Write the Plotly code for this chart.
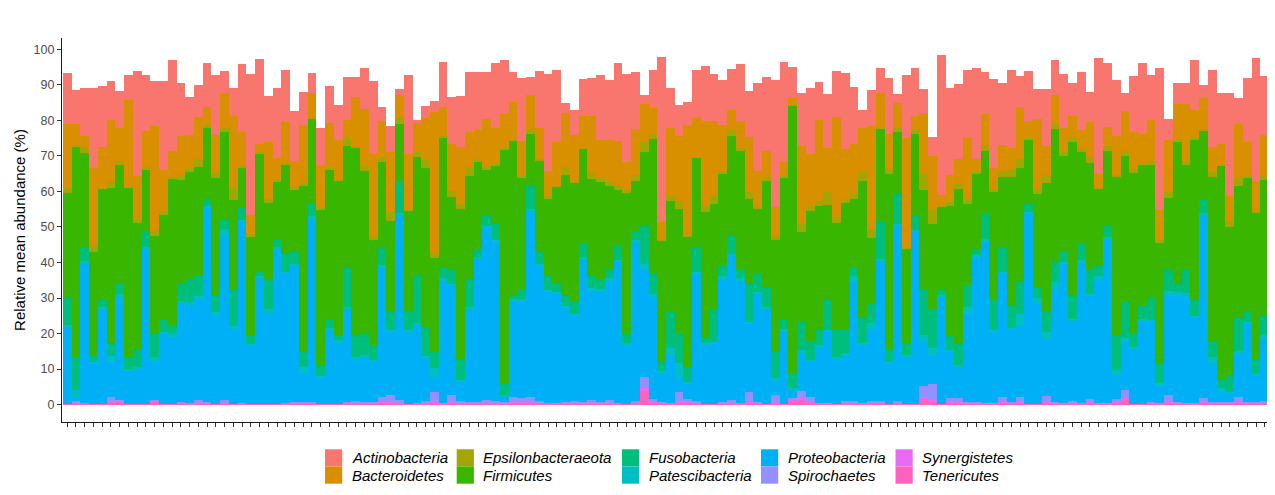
import plotly.graph_objects as go

samples = list(range(1, 139))

actinobacteria = [14.4,9.5,13.5,22.5,17.2,11,10.3,7.1,29.7,15.7,
    12.5,25,25.5,15,10.7,9,12.4,16.8,6,7.8,
    19.1,39.7,23.8,13,19.5,14.7,14,9.2,5.5,10.5,
    10.4,9.7,12.2,5.6,11.4,20.7,4.1,7.5,1.6,22.2,
    0.8,3.3,3.1,12.7,13.3,14.5,16.9,16.1,13.2,18.3,
    14.7,8.3,17.7,5.1,15.9,27.3,20.3,3,6.9,10.5,
    10.7,18.2,16.9,22.1,24.9,15.9,2.5,10.8,46.4,11.2,
    8.7,6.5,13.2,15.7,13.5,12.7,11.7,16.3,12.9,24.5,
    20.6,35.9,27.7,8.6,14.8,18.6,10.6,15.2,12.8,21.4,
    15.9,4.9,10,7,15.9,2.4,17.8,13.4,6.7,5.3,
    39.2,24.4,21.1,18.9,25.6,11.9,25.1,17.2,22.1,8.6,
    14,8.4,15.9,9.7,15.2,9.3,16.4,8.5,32.6,18.1,
    15.6,5,15.9,20.2,12.7,39.9,5.9,6,5.8,14.1,
    3.8,21.7,14.5,29,7.2,18.2,34.6,16.5]

bacteroidetes = [18,6,3,21.5,11.5,17,9.5,24.4,12.3,10,
    29.5,11.5,7.3,11,9.5,12,5.3,11,9.6,20.2,
    9.4,5.3,2.5,16,6.3,11.5,7.7,16.3,6.8,12,
    12.8,11.1,4.9,14.1,16,23.4,9.9,16.8,6.6,15.6,
    8,11.9,39.7,8.1,13.3,15.9,9.8,8.3,13.1,10.3,
    10,10.5,10,9.4,8.9,7.2,12.2,15.2,13.1,9,
    16,10.5,11.9,12.7,8,13.1,10.8,7.3,5,19.2,
    18.3,31.2,11.2,23.9,20.6,13.4,5.6,7.5,15.6,10.3,
    7.5,8.3,4,2,22,14.5,22.8,12.4,28.2,14,
    14.2,12.6,29.3,9.8,9.8,7.2,30.8,3.9,17.2,15.3,
    3.1,7.7,7,17.3,3.7,8.6,6.1,7.3,5.9,14.8,
    4.9,19.7,8.4,8.1,7,6.1,5.4,10,3.7,5.3,
    11.2,11.2,10.3,8.2,11.6,8.6,14.7,10.1,16.4,7.9,
    8.7,7,5.8,7.2,15,9.3,8.5,11.5]

epsilonbacteraeota = [1.5,0.3,1.8,2,0.3,2,1,0.3,1,1,
    1.5,1,0.5,1.2,1,2,0.5,1.2,1.6,3.5,
    0.8,0.7,0.3,1.3,0.3,0.3,0.7,1,0.5,0.8,
    0.3,0.3,2.3,0.3,1.4,0.7,1.6,2.4,1.5,0.3,
    1.7,2.3,1.4,0.4,1.6,1.4,2.5,0.7,1.3,0.3,
    0.3,0.3,0.3,1.4,0.3,0.8,0.3,2.1,0.3,0.3,
    1.8,1.4,1.1,1,0.7,1.5,2.8,1.4,0.3,1.4,
    2.3,0.3,0.3,1.6,2.6,0.3,1.6,0.9,1.9,0.3,
    1,0.9,0.9,0.3,2.3,1.4,1.3,3.5,1.7,1.2,
    1.4,2.4,2.2,0.3,1.4,1.2,0.3,1.3,4.5,4.1,
    0.2,1,1.4,1.4,0.3,1.9,0.6,1.7,2.1,2.5,
    0.4,1.4,2.2,1.6,0.9,1.4,0.9,1.7,0.3,1.4,
    0.3,1.4,1.2,0.3,1,0.5,1.6,0.4,0.7,0.5,
    0.4,1.2,0.3,1.3,2.6,0.7,0.3,1.3]

firmicutes = [29.5,59.2,26.7,29,31.2,44,33.5,47.5,35.5,17,
    27.5,29.8,41.4,29.3,30.5,30.7,20,33,24.3,25.2,
    11.2,27.8,33.4,21.7,16.7,25.4,17,46.5,24,43.7,
    42.4,43.8,34.5,53,45.9,29.7,23.7,25.7,16.1,28.5,
    33.2,45,26.4,36.9,20.6,42.6,29.1,24.5,13,16.5,
    65.7,43.6,31.4,14.7,25.9,21.5,27.2,34.1,33.7,26.5,
    27,27.3,23.5,15.7,39.6,14,20.6,37.7,34,31.3,
    35.1,36.8,25,35.3,29.5,25.9,28.1,33,23.8,18.4,
    29.9,31.5,40,75.3,25.3,36.9,34.9,26.9,29.7,35.7,
    19.2,38.3,18.6,26.3,49.6,17.3,26.7,22.9,27.8,23.7,
    23.4,36.4,43.7,22.9,21.2,17.6,30,20,36.5,32.1,
    18.1,26.4,35.9,37.4,27.2,43.3,25.9,29.9,22,21.1,
    44.6,40.9,45.3,39.6,37.4,34.1,20.2,39.9,29.2,45.1,
    19.5,46.5,60.1,41.8,36.9,37.4,41.4,38]

fusobacteria = [7.7,9.5,3.5,2,2,3.2,3,3.5,5,4.7,
    6.7,3.2,2.5,4.7,6.2,5.8,2,4.8,2.8,10.3,
    3.3,2.5,1,8,1.9,5,3.6,4.5,3.5,3,
    2.3,1.2,10.9,5.8,6.1,4.2,5.3,5,9.1,5.1,
    13.4,7.9,4.7,2.9,3.8,5.6,7.7,2.4,2.6,4.5,
    3.5,1.2,3,6.5,3.2,4.2,2.4,2.9,3.3,4,
    3.8,2.8,2.5,4,2.8,2.8,10.7,5.8,2.6,10.3,
    8.4,4,7.2,1.7,9.3,3.1,5.1,2.8,10.8,5.2,
    5.6,7.5,2.4,4.2,8,5.2,4.4,8.3,7.9,6.6,
    2.6,7.5,5.4,10.3,3.2,8.4,3.3,4,13,11.2,
    1.6,4.1,5.9,6.1,1.9,7.2,8.8,6.9,6,8.9,
    2.3,2.8,5.9,5.6,2.8,6.3,4.5,6.9,2.8,3.1,
    9.9,10.4,3.5,3.8,6.2,5.4,6,2.5,6.9,4.5,
    3.7,4.2,2.5,4.7,9.3,3.1,3.9,5.6]

patescibacteria = [0.5,2.2,0.5,0.5,0.5,1.8,0.5,0.5,0.5,0.5,
    1.3,0.5,0.5,0.5,0.5,0.5,0.5,1,2,0.5,
    0.5,0.5,0.5,1.3,0.5,0.5,0.5,2,0.5,0.5,
    0.5,0.5,0.5,0.5,0.5,0.5,0.5,0.5,0.5,0.5,
    0.5,0.5,2.3,0.5,0.5,0.5,0.5,0.5,0.5,0.5,
    0.5,0.5,0.5,0.5,0.5,0.5,0.5,0.5,0.5,0.5,
    0.5,0.5,0.5,0.5,0.5,0.5,1.4,1,0.5,1.9,
    4.2,0.5,0.5,0.5,0.5,0.7,0.5,0.5,0.7,0.5,
    0.5,0.5,0.5,0.5,0.5,0.5,0.5,0.5,0.5,0.5,
    1.6,0.5,1.6,0.5,0.5,0.5,0.5,0.5,1.9,2.1,
    0.5,0.5,0.5,1.9,0.5,0.5,0.5,0.5,0.5,3.2,
    0.5,1.7,1.9,1.9,0.5,0.5,0.5,0.5,0.5,0.5,
    1.7,1.1,0.5,0.5,0.5,1.1,1.5,1.2,0.5,0.5,
    0.5,1.7,0.5,0.5,0.8,0.5,0.5,1]

proteobacteria = [21.5,0.8,39.5,11.2,26.8,10,29.3,9.3,9.8,43.5,
    10.8,19.8,19.1,28,27.8,28.7,54.7,24.7,46.3,21.2,
    51,16.2,35.6,25.4,43.5,36.3,38.4,7.7,51.9,7.3,
    20.8,17.4,26.2,12,12.6,11.2,36.5,17.9,52.1,20.2,
    22,12.2,4.3,34.6,30.8,5.3,26.2,40.2,48.7,44.9,
    1.6,26.9,27.3,52.4,38.2,31.2,30.8,26.4,24.1,40.2,
    31,31.4,33.8,39.8,16.4,44.7,30.4,28.7,8.2,13.5,
    3.8,4.5,35.8,16.4,16.9,34.6,40.8,34.5,19,30.4,
    26.7,4.2,20.6,2.3,10.9,9.8,15.8,20.2,12.7,12.9,
    33.5,16.2,20.4,39.6,11.3,49.4,13.1,48.4,12.6,7.9,
    30.1,13.2,8.8,25,40.9,45.5,20.1,34.6,20.6,20.2,
    53.4,28.1,16.2,32,39.2,22.6,39.7,29.1,35.2,46.4,
    6.5,13.6,15.5,23.4,22.8,4.7,27.8,29.9,30.5,24,
    51.6,11.2,3.5,2.3,12.2,22.2,7.7,17.7]

spirochaetes = [0,0.6,0.1,0,0,0.9,0.1,0,0,0,
    0.3,0,0,0.4,0.1,0.9,0.4,0,0.8,0,
    0.1,0,0,0,0,0.1,0.4,0.4,0.2,0,
    0,0,0.4,0.6,0.4,0.4,1.4,1.9,0.9,0,
    0.1,0.6,2.5,0,1.9,0.7,0.4,0.4,0.8,0.6,
    0.2,1.4,1.0,1.4,0.6,0.1,0,0.4,0.6,0.4,
    0.8,0.2,0.8,0.1,0,0.6,3.3,0.7,0.4,0,
    2.6,0.7,0.6,0,0,0.4,0.8,0.1,2.8,0.4,
    0,1.9,0,0.3,2.0,1.4,0,0,0,0.6,
    0.6,0.1,0.6,0.6,0,0.6,0,0,3.0,4.5,
    0,1.0,1.0,0.2,0.2,0.1,0,1.4,0.2,1.4,
    0,0,1.6,0.2,0,0.7,0,0.7,0,0,
    0.7,2.3,0,0,0.2,0,1.9,0.2,0,0,
    1.0,0.2,0.2,0.4,1.4,0.2,0.2,0.5]

synergistetes = [0,0.1,0.1,0,0,0.1,0.1,0,0,0,
    0.1,0,0,0.1,0.1,0.1,0.1,0,0.1,0,
    0.1,0,0,0,0,0.1,0.1,0.1,0.1,0,
    0,0,0.1,0.1,0.1,0.1,0.2,0.2,0.1,0,
    0.1,0.1,0.5,0.1,0.2,0.1,0.1,0.1,0.1,0.1,
    0.1,0.2,0.2,0.2,0.1,0.1,0.1,0.1,0.1,0.1,
    0.1,0.1,0.1,0.1,0,0.1,0.8,0.2,0.1,0.1,
    0.4,0.2,0.1,0,0,0.1,0.1,0.1,0.2,0.1,
    0,0.2,0,0.3,0.4,0.2,0.1,0.1,0,0.1,
    0.1,0.1,0.1,0.1,0,0.1,0,0,0.5,0.5,
    0,0.2,0.2,0.1,0.1,0.1,0.1,0.2,0.1,0.2,
    0,0,0.2,0.1,0.1,0.1,0.1,0.2,0.1,0.1,
    0.2,0.3,0,0,0.1,0.1,0.2,0.1,0.1,0.1,
    0.2,0.1,0.1,0.1,0.2,0.1,0.1,0.1]

tenericutes = [0.3,0.3,0.3,0.3,0.2,1.0,1.0,0.2,0.2,0.3,
    0.8,0.2,0.2,0.3,0.3,0.3,0.3,0.3,0.3,0.3,
    0.3,0.3,0.2,0.3,0.3,0.3,0.3,0.3,0.3,0.2,
    0.3,0.2,0.3,0.3,0.3,0.3,0.6,0.6,0.3,0.3,
    0.3,0.3,0.6,0.3,0.6,0.3,0.3,0.3,0.3,0.3,
    0.3,0.6,0.6,0.6,0.3,0.3,0.3,0.3,0.3,0.3,
    0.3,0.3,0.3,0.3,0.3,0.3,3.8,0.6,0.3,0.3,
    0.6,0.6,0.3,0.3,0.3,0.3,0.3,0.3,0.6,0.3,
    0.3,0.6,0.3,1.2,1.5,0.6,0.3,0.3,0.3,0.3,
    0.3,0.3,0.3,0.3,0.3,0.3,0.3,0.3,1.6,0.8,
    0.2,0.6,0.6,0.3,0.3,0.3,0.3,0.6,0.3,0.6,
    0.3,0.3,0.6,0.3,0.3,0.3,0.3,0.6,0.3,0.3,
    0.6,1.5,0.3,0.3,0.3,0.3,0.6,0.3,0.3,0.3,
    0.6,0.3,0.3,0.3,0.6,0.3,0.3,0.3]

phyla = ["Actinobacteria", "Bacteroidetes", "Epsilonbacteraeota", "Firmicutes",
         "Fusobacteria", "Patescibacteria", "Proteobacteria", "Spirochaetes",
         "Synergistetes", "Tenericutes"]
values = {
    "Actinobacteria": actinobacteria,
    "Bacteroidetes": bacteroidetes,
    "Epsilonbacteraeota": epsilonbacteraeota,
    "Firmicutes": firmicutes,
    "Fusobacteria": fusobacteria,
    "Patescibacteria": patescibacteria,
    "Proteobacteria": proteobacteria,
    "Spirochaetes": spirochaetes,
    "Synergistetes": synergistetes,
    "Tenericutes": tenericutes,
}
colors = ["#F8766D", "#D89000", "#A3A500", "#39B600", "#00BF7D",
          "#00BFC4", "#00B0F6", "#9590FF", "#E76BF3", "#FF62BC"]

FONT = "Liberation Sans, Arial, Helvetica, sans-serif"
# the page body has an 8px margin; the figure is sized to fill the rest
OFF = 8
W, H = 1275 - OFF, 495 - OFF
ML, MR, MT, MB = 54, 5, 30, 73
PW, PH = W - ML - MR, H - MT - MB


def px_x(page_px):
    return (page_px - OFF - ML) / PW


def px_y(page_py):
    return (H - MB - (page_py - OFF)) / PH


fig = go.Figure()
# stack from the bottom: last phylum first
for i in reversed(range(len(phyla))):
    name = phyla[i]
    fig.add_trace(go.Bar(
        x=samples, y=values[name], name=name, showlegend=False,
        marker=dict(color=colors[i], line=dict(width=0)),
        hovertemplate=name + ": %{y}<extra></extra>",
    ))

# legend laid out like ggplot's: 5 columns x 2 rows, filled column-wise
key_left = [325, 456.7, 622, 761, 895.5]
key_size = 17.2
row_top = [449.3, 466.5]
shapes, annotations = [], []
for i, name in enumerate(phyla):
    col, row = i // 2, i % 2
    x0 = key_left[col]
    y0 = row_top[row]
    shapes.append(dict(type="rect", xref="paper", yref="paper",
                       x0=px_x(x0), x1=px_x(x0 + key_size),
                       y0=px_y(y0 + key_size), y1=px_y(y0),
                       fillcolor=colors[i], line=dict(width=0), layer="above"))
    annotations.append(dict(xref="paper", yref="paper",
                            x=px_x(x0 + key_size + 7.5), y=px_y(y0 + key_size / 2),
                            xanchor="left", yanchor="middle", showarrow=False,
                            text=name,
                            font=dict(family=FONT, size=15, color="#000000",
                                      style="italic")))

fig.update_layout(
    width=W, height=H,
    barmode="stack", bargap=0,
    plot_bgcolor="white", paper_bgcolor="white",
    margin=dict(l=ML, r=MR, t=MT, b=MB, autoexpand=False),
    font=dict(family=FONT, color="#000000"),
    showlegend=False,
    shapes=shapes, annotations=annotations,
    xaxis=dict(
        range=[0.4, 138.6], tickmode="array", tickvals=samples,
        showticklabels=False, ticks="outside", ticklen=4, tickwidth=1,
        tickcolor="#333333", showline=True, linecolor="#1A1A1A", linewidth=1.2,
        showgrid=False, zeroline=False, automargin=False,
    ),
    yaxis=dict(
        range=[-4.9, 103.2], tickmode="array", tickvals=list(range(0, 101, 10)),
        ticks="outside", ticklen=4, tickwidth=1, tickcolor="#333333",
        tickfont=dict(family=FONT, size=12.5, color="#4D4D4D"),
        showline=True, linecolor="#1A1A1A", linewidth=1.2,
        showgrid=False, zeroline=False, automargin=False,
        title=dict(text="Relative mean abundance (%)", standoff=4,
                   font=dict(family=FONT, size=15, color="#000000")),
    ),
)

fig.write_html("out.html")
